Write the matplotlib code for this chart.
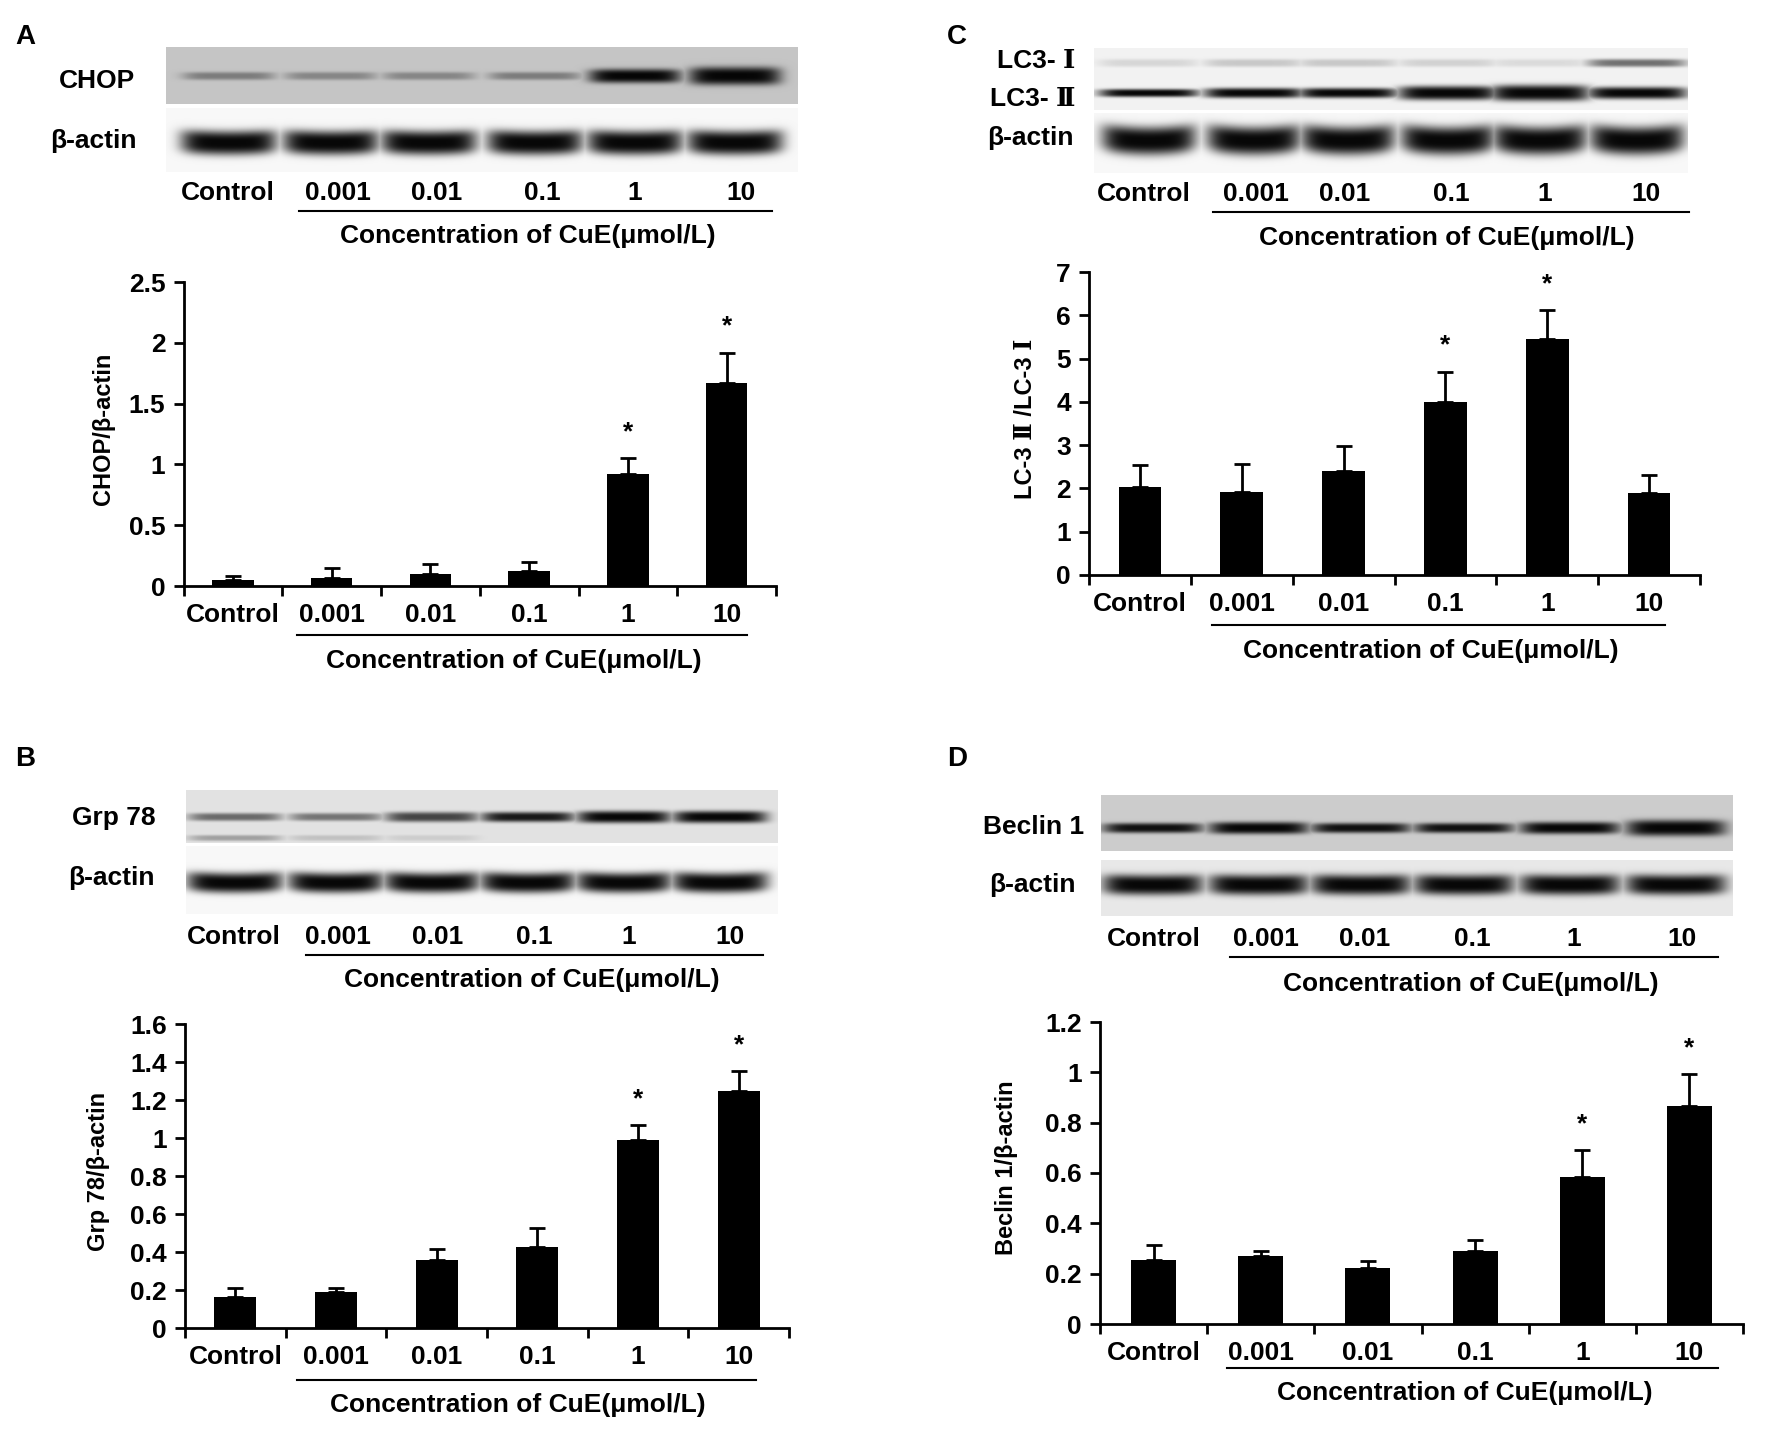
import numpy as np
import matplotlib
matplotlib.use("Agg")
import matplotlib.pyplot as plt
from matplotlib.ticker import FuncFormatter, FixedLocator

plt.rcParams['font.family'] = ['Liberation Sans', 'DejaVu Serif', 'Noto Sans CJK SC', 'DejaVu Sans']
plt.rcParams['font.weight'] = 'bold'
plt.rcParams['axes.labelweight'] = 'bold'

# ---- data ----
groups = ['Control', '0.001', '0.01', '0.1', '1', '10']
xlabel = 'Concentration of CuE(μmol/L)'

chop_mean = [0.046, 0.068, 0.10, 0.12, 0.923, 1.672]
chop_err = [0.034, 0.076, 0.08, 0.08, 0.129, 0.247]
chop_sig = [False, False, False, False, True, True]

lc3_mean = [2.03, 1.92, 2.40, 3.99, 5.45, 1.89]
lc3_err = [0.50, 0.64, 0.57, 0.71, 0.67, 0.43]
lc3_sig = [False, False, False, True, True, False]

grp_mean = [0.164, 0.188, 0.356, 0.426, 0.987, 1.246]
grp_err = [0.048, 0.024, 0.058, 0.099, 0.079, 0.106]
grp_sig = [False, False, False, False, True, True]

bec_mean = [0.254, 0.272, 0.221, 0.290, 0.584, 0.865]
bec_err = [0.058, 0.018, 0.031, 0.044, 0.108, 0.127]
bec_sig = [False, False, False, False, True, True]

# band darkness (0..1) and half thickness (px) of each lane in the blots
chop_band = [0.38, 0.33, 0.33, 0.38, 1.0, 1.0]
chop_thick = [4, 4, 4, 4, 7, 9]
lc3i_band = [0.12, 0.18, 0.18, 0.14, 0.10, 0.55]
lc3i_thick = [4, 4, 4, 4, 4, 4]
lc3ii_band = [1.0, 1.0, 1.0, 1.0, 1.0, 1.0]
lc3ii_thick = [4, 5, 5, 7, 8, 6]
grp_band = [0.55, 0.5, 0.72, 0.92, 1.0, 1.0]
grp_thick = [4, 4, 5, 5, 6, 6]
grp_low_band = [0.3, 0.15, 0.1, 0.0, 0.0, 0.0]
bec_band = [0.95, 1.0, 0.95, 0.95, 1.0, 1.0]
bec_thick = [5, 6, 5, 5, 6, 8]
actin_band = [1.0, 1.0, 1.0, 1.0, 1.0, 1.0]

W, H = 1775, 1433
fig = plt.figure(figsize=(W / 100, H / 100), dpi=100)

# overlay axes in pixel coordinates for blots and annotations
ov = fig.add_axes([0, 0, 1, 1])
ov.set_xlim(0, W)
ov.set_ylim(H, 0)
ov.axis('off')

FS = 19


def blot(x0, x1, y0, y1, bg, centers, halfw, rows):
    xx = np.arange(int(x1 - x0)) + x0 + 0.5
    yy = np.arange(int(y1 - y0)) + y0 + 0.5
    X, Y = np.meshgrid(xx, yy)
    dark = np.zeros_like(X)
    for cy, levels, halfh, curve in rows:
        for cx, lv, hh in zip(centers, levels, halfh):
            u = (X - cx) / halfw
            yc = cy - curve * u ** 2
            prof = np.exp(-np.abs(u) ** 6) * np.exp(-np.abs((Y - yc) / hh) ** 3)
            dark = np.maximum(dark, lv * prof)
    img = bg * (1 - 0.97 * dark)
    ov.imshow(img, extent=(x0, x1, y1, y0), cmap='gray', vmin=0, vmax=1,
              aspect='auto', interpolation='bilinear')


def lane_row(xs, y, y_line, x_line, y_title, x_title):
    for x, g in zip(xs, groups):
        ov.text(x, y, g, ha='center', va='center', fontsize=FS)
    ov.plot(x_line, [y_line, y_line], color='black', lw=1.5)
    ov.text(x_title, y_title, xlabel, ha='center', va='center', fontsize=FS)


def chart(left, right, top, bottom, mean, err, sig, ymax, ystep, ylab,
          ylab_x, line_x, line_y, title_x, title_y):
    ax = fig.add_axes([left / W, 1 - bottom / H, (right - left) / W, (bottom - top) / H])
    ax.set_facecolor('none')
    x = np.arange(len(groups))
    ax.bar(x, mean, width=0.42, color='black')
    ax.errorbar(x, mean, yerr=[np.zeros(len(err)), err], fmt='none', ecolor='black',
                elinewidth=2, capsize=6, capthick=2)
    for xi, m, e, s in zip(x, mean, err, sig):
        if s:
            ax.annotate('*', (xi, m + e), xytext=(0, 10), textcoords='offset points',
                        ha='center', va='bottom', fontsize=FS)
    ax.set_xlim(-0.5, len(groups) - 0.5)
    ax.set_ylim(0, ymax)
    ax.set_yticks(np.arange(0, ymax + ystep / 2, ystep))
    ax.yaxis.set_major_formatter(FuncFormatter(lambda v, p: '{:g}'.format(round(v, 2))))
    ax.set_xticks(x)
    ax.set_xticklabels(groups)
    ax.xaxis.set_minor_locator(FixedLocator(np.arange(-0.5, len(groups), 1.0)))
    ax.tick_params(axis='x', which='major', length=0, pad=12, labelsize=FS)
    ax.tick_params(axis='x', which='minor', length=7, width=2, direction='out')
    ax.tick_params(axis='y', length=7, width=2, direction='out', labelsize=FS, pad=6)
    for lab in ax.get_xticklabels() + ax.get_yticklabels():
        lab.set_fontweight('bold')
    for sp in ['top', 'right']:
        ax.spines[sp].set_visible(False)
    for sp in ['left', 'bottom']:
        ax.spines[sp].set_linewidth(2)
    ov.text(ylab_x, (top + bottom) / 2 - 5, ylab, rotation=90, ha='center', va='center',
            fontsize=17)
    ov.plot(line_x, [line_y, line_y], color='black', lw=1.5)
    ov.text(title_x, title_y, xlabel, ha='center', va='center', fontsize=FS)
    return ax


# ---- panel letters ----
for letter, (px, py) in zip('ACBD', [(25, 37), (957, 37), (25, 759), (957, 759)]):
    ov.text(px, py, letter, ha='center', va='center', fontsize=20)

# ---- Panel A ----
laneA = [229, 331, 429, 535, 635, 735]
blot(166, 798, 47, 104, 0.77, laneA, 46, [(76, chop_band, chop_thick, 0)])
blot(166, 798, 108, 172, 0.97, laneA, 48, [(143, actin_band, [12] * 6, 2)])
ov.text(135, 81, 'CHOP', ha='right', va='center', fontsize=FS)
ov.text(137, 141, 'β-actin', ha='right', va='center', fontsize=FS)
lane_row([228, 338, 437, 542, 635, 741], 193, 211, [299, 772], 236, 528)
chart(183.5, 776, 282, 586, chop_mean, chop_err, chop_sig, 2.5, 0.5, 'CHOP/β-actin',
      104, [297, 747], 635, 514, 661)

# ---- Panel C ----
laneC = [1149, 1254, 1348, 1448, 1540, 1637]
blot(1094, 1688, 48, 110, 0.95, laneC, 50,
     [(63, lc3i_band, lc3i_thick, 0), (93, lc3ii_band, lc3ii_thick, 0)])
blot(1094, 1688, 113, 173, 0.97, laneC, 47, [(141, actin_band, [14] * 6, 4)])
ov.text(1075, 61, 'LC3- Ⅰ', ha='right', va='center', fontsize=FS)
ov.text(1075, 99, 'LC3- Ⅱ', ha='right', va='center', fontsize=FS)
ov.text(1074, 138, 'β-actin', ha='right', va='center', fontsize=FS)
lane_row([1144, 1256, 1345, 1451, 1545, 1646], 194, 212, [1213, 1689], 238, 1447)
chart(1089, 1700, 272, 575, lc3_mean, lc3_err, lc3_sig, 7, 1, 'LC-3 Ⅱ /LC-3 Ⅰ',
      1026, [1212, 1665], 625, 1431, 651)

# ---- Panel B ----
laneB = [235, 336, 432, 528, 624, 720]
blot(186, 778, 790, 843, 0.89, laneB, 47,
     [(817, grp_band, grp_thick, 0), (838, grp_low_band, [3] * 6, 0)])
blot(186, 778, 846, 914, 0.97, laneB, 48, [(883, actin_band, [10] * 6, 2)])
ov.text(156, 818, 'Grp 78', ha='right', va='center', fontsize=FS)
ov.text(155, 878, 'β-actin', ha='right', va='center', fontsize=FS)
lane_row([234, 338, 438, 534, 629, 730], 937, 955, [306, 763], 980, 532)
chart(185, 789, 1024, 1328, grp_mean, grp_err, grp_sig, 1.6, 0.2, 'Grp 78/β-actin',
      98, [297, 756], 1380, 518, 1405)

# ---- Panel D ----
laneD = [1153, 1259, 1361, 1464, 1570, 1676]
blot(1101, 1733, 795, 851, 0.80, laneD, 50, [(828, bec_band, bec_thick, 0)])
blot(1101, 1733, 860, 916, 0.91, laneD, 50, [(885, actin_band, [10] * 6, 1)])
ov.text(1084, 827, 'Beclin 1', ha='right', va='center', fontsize=FS)
ov.text(1076, 885, 'β-actin', ha='right', va='center', fontsize=FS)
lane_row([1154, 1266, 1365, 1472, 1574, 1682], 939, 957, [1230, 1718], 984, 1471)
chart(1100, 1743, 1022, 1324, bec_mean, bec_err, bec_sig, 1.2, 0.2, 'Beclin 1/β-actin',
      1006, [1227, 1718], 1368, 1465, 1393)

fig.savefig('out.png', dpi=100)
